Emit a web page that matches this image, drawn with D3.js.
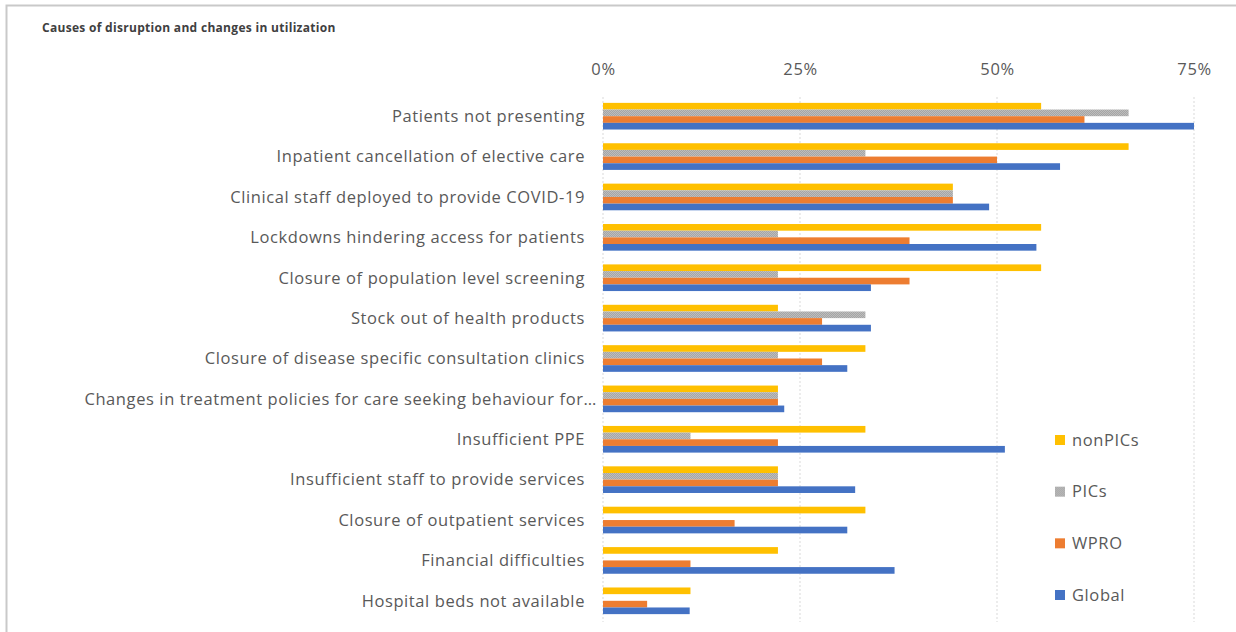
<!DOCTYPE html>
<html>
<head>
  <meta charset="utf-8">
  <title>Causes of disruption</title>
  <script src="https://cdn.jsdelivr.net/npm/d3@7"></script>
  <style>
    body { margin: 0; background: #fff; }
    text { font-family: "Open Sans", sans-serif; fill: #595959; }
  </style>
</head>
<body>
  <div id="canvas"></div>
  <script>
    // categories, top to bottom
    var categories = [
      "Patients not presenting",
      "Inpatient cancellation of elective care",
      "Clinical staff deployed to provide COVID-19",
      "Lockdowns hindering access for patients",
      "Closure of population level screening",
      "Stock out of health products",
      "Closure of disease specific consultation clinics",
      "Changes in treatment policies for care seeking behaviour for\u2026",
      "Insufficient PPE",
      "Insufficient staff to provide services",
      "Closure of outpatient services",
      "Financial difficulties",
      "Hospital beds not available"
    ];
    var seriesNames = ["nonPICs", "PICs", "WPRO", "Global"];
    var nonPICs = [55.6, 66.7, 44.4, 55.6, 55.6, 22.2, 33.3, 22.2, 33.3, 22.2, 33.3, 22.2, 11.1];
    var PICs    = [66.7, 33.3, 44.4, 22.2, 22.2, 33.3, 22.2, 22.2, 11.1, 22.2, 0, 0, 0];
    var WPRO    = [61.1, 50.0, 44.4, 38.9, 38.9, 27.8, 27.8, 22.2, 22.2, 22.2, 16.7, 11.1, 5.6];
    var Global  = [75.0, 58.0, 49.0, 55.0, 34.0, 34.0, 31.0, 23.0, 51.0, 32.0, 31.0, 37.0, 11.0];
    var tickValues = [0, 25, 50, 75];
    var colors = ["#ffc000", "#a5a5a5", "#ed7d31", "#4472c4"];

    var width = 1236, height = 632;
    var svg = d3.select("#canvas").append("svg")
      .attr("width", width).attr("height", height);

    // dotted texture for the PICs bars
    var defs = svg.append("defs");
    var pat = defs.append("pattern").attr("id", "dots")
      .attr("width", 2).attr("height", 2).attr("patternUnits", "userSpaceOnUse");
    pat.append("rect").attr("width", 2).attr("height", 2).attr("fill", "#a5a5a5");
    pat.append("rect").attr("width", 1).attr("height", 1).attr("fill", "#bdbdbd");
    pat.append("rect").attr("x", 1).attr("y", 1).attr("width", 1).attr("height", 1).attr("fill", "#bdbdbd");

    // frame
    svg.append("path")
      .attr("d", "M6.5,640 V5.5 H1240")
      .attr("fill", "none").attr("stroke", "#c9c9c9").attr("stroke-width", 2);

    svg.append("text")
      .attr("x", 42).attr("y", 32)
      .style("font-size", "12px").style("font-weight", "bold")
      .style("letter-spacing", "0.3px")
      .style("fill", "#404040")
      .text("Causes of disruption and changes in utilization");

    var x = d3.scaleLinear().domain([0, 75]).range([603, 1194]);
    var y = d3.scaleBand().domain(categories).range([96, 621]).paddingInner(0.34).paddingOuter(0.17);
    var sub = d3.scaleBand().domain(seriesNames).range([0, y.bandwidth()]);

    // gridlines
    svg.append("g").selectAll("line").data(tickValues).join("line")
      .attr("x1", d => x(d)).attr("x2", d => x(d))
      .attr("y1", 97).attr("y2", 622)
      .attr("stroke", "#d9d9d9").attr("stroke-dasharray", "2,2");

    // top axis
    var axis = svg.append("g").attr("transform", "translate(0,78)")
      .call(d3.axisTop(x).tickValues(tickValues).tickFormat(d => d + "%").tickSize(0));
    axis.select(".domain").remove();
    axis.selectAll("text").style("font-size", "16.5px").style("letter-spacing", "0.6px")
      .style("fill", "#595959").attr("font-family", null);

    // bars
    var seriesData = [nonPICs, PICs, WPRO, Global];
    seriesNames.forEach(function (s, si) {
      svg.append("g").selectAll("rect")
        .data(categories)
        .join("rect")
        .attr("x", x(0))
        .attr("y", d => y(d) + sub(s))
        .attr("height", sub.bandwidth())
        .attr("width", (d, i) => x(seriesData[si][i]) - x(0))
        .attr("fill", si === 1 ? "url(#dots)" : colors[si]);
    });

    // category labels
    svg.append("g").selectAll("text").data(categories).join("text")
      .attr("x", d => d.endsWith("\u2026") ? 597 : 585)
      .attr("y", d => y(d) + y.bandwidth() / 2)
      .attr("dy", "0.35em")
      .attr("text-anchor", "end")
      .style("font-size", "16.5px")
      .style("letter-spacing", "0.6px")
      .text(d => d);

    // legend
    var legY = d3.scalePoint().domain(seriesNames).range([440, 595]);
    var leg = svg.append("g").selectAll("g").data(seriesNames).join("g")
      .attr("transform", d => "translate(1055," + legY(d) + ")");
    leg.append("rect").attr("x", 0).attr("y", -5).attr("width", 10).attr("height", 10)
      .attr("fill", (d, i) => i === 1 ? "url(#dots)" : colors[i]);
    leg.append("text").attr("x", 17).attr("dy", "0.35em")
      .style("font-size", "16.5px").style("letter-spacing", "0.6px").text(d => d);
  </script>
</body>
</html>
